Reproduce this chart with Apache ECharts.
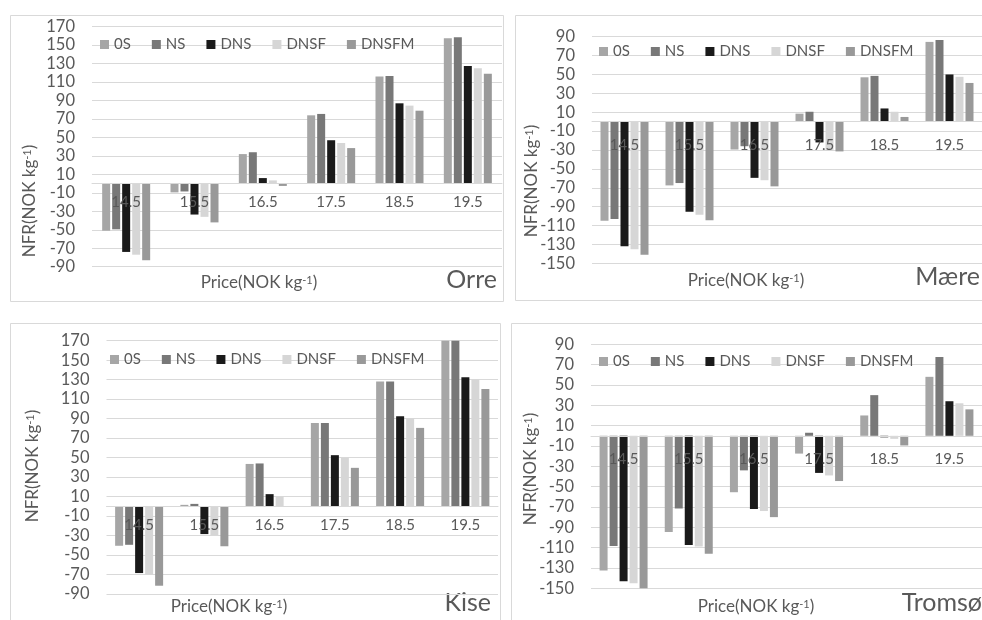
<!DOCTYPE html>
<html>
<head>
<meta charset="utf-8">
<script src="https://cdn.jsdelivr.net/npm/echarts@6/dist/echarts.min.js"></script>
<style>
html,body{margin:0;padding:0;background:#fff;}
#chart{width:982px;height:620px;}
</style>
</head>
<body>
<div id="chart"></div>
<script>
// ---- data ----
var categories = ['14.5', '15.5', '16.5', '17.5', '18.5', '19.5'];
var seriesNames = ['0S', 'NS', 'DNS', 'DNSF', 'DNSFM'];

var orre0S    = [-51, -9.5, 32, 74, 116, 157.5];
var orreNS    = [-49.5, -8.5, 34, 75.5, 116.5, 158.5];
var orreDNS   = [-74, -33.5, 6, 47, 87, 127.5];
var orreDNSF  = [-77, -36, 3.5, 44, 84.5, 125];
var orreDNSFM = [-83, -42, -2.5, 38.5, 79, 119];

var maere0S    = [-105, -67.5, -29.5, 8.5, 47, 84.5];
var maereNS    = [-103, -65, -26, 10.5, 48.5, 86.5];
var maereDNS   = [-132, -95.5, -59.5, -22, 14, 50];
var maereDNSF  = [-135, -98.5, -62, -31, 10.5, 47.5];
var maereDNSFM = [-141, -104.5, -68.5, -31.5, 5, 41];

var kise0S    = [-40.5, 1.5, 43.5, 85.5, 128, 170];
var kiseNS    = [-39.5, 2.5, 44, 85.5, 128, 170];
var kiseDNS   = [-68.5, -28.5, 12.5, 52.5, 92.5, 132.5];
var kiseDNSF  = [-70, -30, 10, 50, 90.5, 130.5];
var kiseDNSFM = [-81.5, -41, -0.5, 39.5, 80.5, 120.5];

var tromso0S    = [-132.5, -94.5, -55.5, -17.5, 20, 58];
var tromsoNS    = [-108.5, -71.5, -34, 3, 40, 77.5];
var tromsoDNS   = [-143, -107.5, -72, -36.5, -1.5, 34];
var tromsoDNSF  = [-145, -109, -74, -39, -3, 32];
var tromsoDNSFM = [-150, -116, -80, -44.5, -9.5, 26];

var panelTitles = ['Orre', 'Mære', 'Kise', 'Tromsø'];
var yRangeA = {min: -90, max: 170, interval: 20};   // Orre, Kise
var yRangeB = {min: -150, max: 90, interval: 20};   // Mære, Tromsø

// ---- styling / layout ----
var FONT = 'Lato, "Open Sans", sans-serif';
var TXT = '#595959';
var GRIDC = '#d9d9d9';
var colors = ['#a6a6a6', '#787878', '#1a1a1a', '#d6d6d6', '#999999'];

var panelData = [
  [orre0S, orreNS, orreDNS, orreDNSF, orreDNSFM],
  [maere0S, maereNS, maereDNS, maereDNSF, maereDNSFM],
  [kise0S, kiseNS, kiseDNS, kiseDNSF, kiseDNSFM],
  [tromso0S, tromsoNS, tromsoDNS, tromsoDNSF, tromsoDNSFM]
];
var ranges = [yRangeA, yRangeB, yRangeA, yRangeB];

var grids = [
  {left: 92, top: 26.7, width: 410, height: 240},
  {left: 592, top: 36.7, width: 398, height: 226.6},
  {left: 106.5, top: 340.7, width: 391.5, height: 253.3},
  {left: 591, top: 344.3, width: 397, height: 244}
];
var catLabelMargin = [11, 16, 11, 16];
var legendPos = [
  {left: 95, top: 32},
  {left: 594, top: 39},
  {left: 105, top: 347},
  {left: 594, top: 349}
];
var borders = [
  {x: 10.5, y: 15.5, width: 493, height: 286},
  {x: 515.5, y: 15.5, width: 480, height: 285},
  {x: 10.5, y: 323.5, width: 490, height: 310},
  {x: 511.5, y: 323.5, width: 480, height: 310}
];
var yTitlePos = [[30, 201], [532, 181], [33, 466], [531, 469]];
var xTitlePos = [[259, 283], [746, 281], [229, 607], [756, 607]];
var panelTitlePos = [[497, 280], [980, 277], [491, 603], [982, 603]];

var xAxes = [], yAxes = [], series = [], legends = [], graphics = [];

grids.forEach(function (g, i) {
  var r = ranges[i];
  // place the category axis (line + labels) at the value-axis zero
  var zeroOffset = -(0 - r.min) / (r.max - r.min) * g.height;
  xAxes.push({
    type: 'category', gridIndex: i, data: categories, z: 10,
    position: 'bottom', offset: zeroOffset,
    axisLine: {onZero: false, lineStyle: {color: GRIDC, width: 1}},
    axisTick: {show: false},
    axisLabel: {color: TXT, fontFamily: FONT, fontSize: 15, margin: catLabelMargin[i]},
    splitLine: {show: false}
  });
  yAxes.push({
    type: 'value', gridIndex: i,
    min: r.min, max: r.max, interval: r.interval,
    axisLine: {show: false}, axisTick: {show: false},
    axisLabel: {color: TXT, fontFamily: FONT, fontSize: 16.5, margin: 17},
    splitLine: {show: true, lineStyle: {color: GRIDC, width: 1}}
  });
  panelData[i].forEach(function (vals, k) {
    series.push({
      type: 'bar', name: seriesNames[k], xAxisIndex: i, yAxisIndex: i,
      data: vals, barWidth: 8, barGap: '25%',
      itemStyle: {color: colors[k]},
      emphasis: {disabled: true}
    });
  });
  legends.push({
    data: seriesNames, left: legendPos[i].left, top: legendPos[i].top,
    icon: 'rect', itemWidth: 9, itemHeight: 9, itemGap: 21,
    textStyle: {color: TXT, fontFamily: FONT, fontSize: 15},
    selectedMode: false
  });
  graphics.push({
    type: 'rect', shape: borders[i], silent: true, z: -10,
    style: {fill: 'none', stroke: GRIDC, lineWidth: 1}
  });
  graphics.push({
    type: 'text', x: yTitlePos[i][0], y: yTitlePos[i][1], rotation: Math.PI / 2,
    style: {
      text: '{a|NFR(NOK kg}{s|-1}{a|)}',
      align: 'center', verticalAlign: 'middle', textAlign: 'center', textVerticalAlign: 'middle',
      rich: {
        a: {fontFamily: FONT, fontSize: 17, fill: TXT, color: TXT},
        s: {fontFamily: FONT, fontSize: 11, fill: TXT, color: TXT, verticalAlign: 'top', padding: [0, 0, 6, 0]}
      }
    }
  });
  graphics.push({
    type: 'text', x: xTitlePos[i][0], y: xTitlePos[i][1],
    style: {
      text: '{a|Price(NOK kg}{s|-1}{a|)}',
      align: 'center', verticalAlign: 'middle', textAlign: 'center', textVerticalAlign: 'middle',
      rich: {
        a: {fontFamily: FONT, fontSize: 17, fill: TXT, color: TXT},
        s: {fontFamily: FONT, fontSize: 11, fill: TXT, color: TXT, verticalAlign: 'top', padding: [0, 0, 6, 0]}
      }
    }
  });
  graphics.push({
    type: 'text', x: panelTitlePos[i][0], y: panelTitlePos[i][1],
    style: {
      text: panelTitles[i], font: '25px ' + FONT, fill: TXT,
      align: 'right', verticalAlign: 'middle', textAlign: 'right', textVerticalAlign: 'middle'
    }
  });
});

var chart = echarts.init(document.getElementById('chart'), null, {renderer: 'canvas'});
chart.setOption({
  backgroundColor: '#ffffff',
  animation: false,
  grid: grids,
  xAxis: xAxes,
  yAxis: yAxes,
  legend: legends,
  series: series,
  graphic: graphics
});
</script>
</body>
</html>
